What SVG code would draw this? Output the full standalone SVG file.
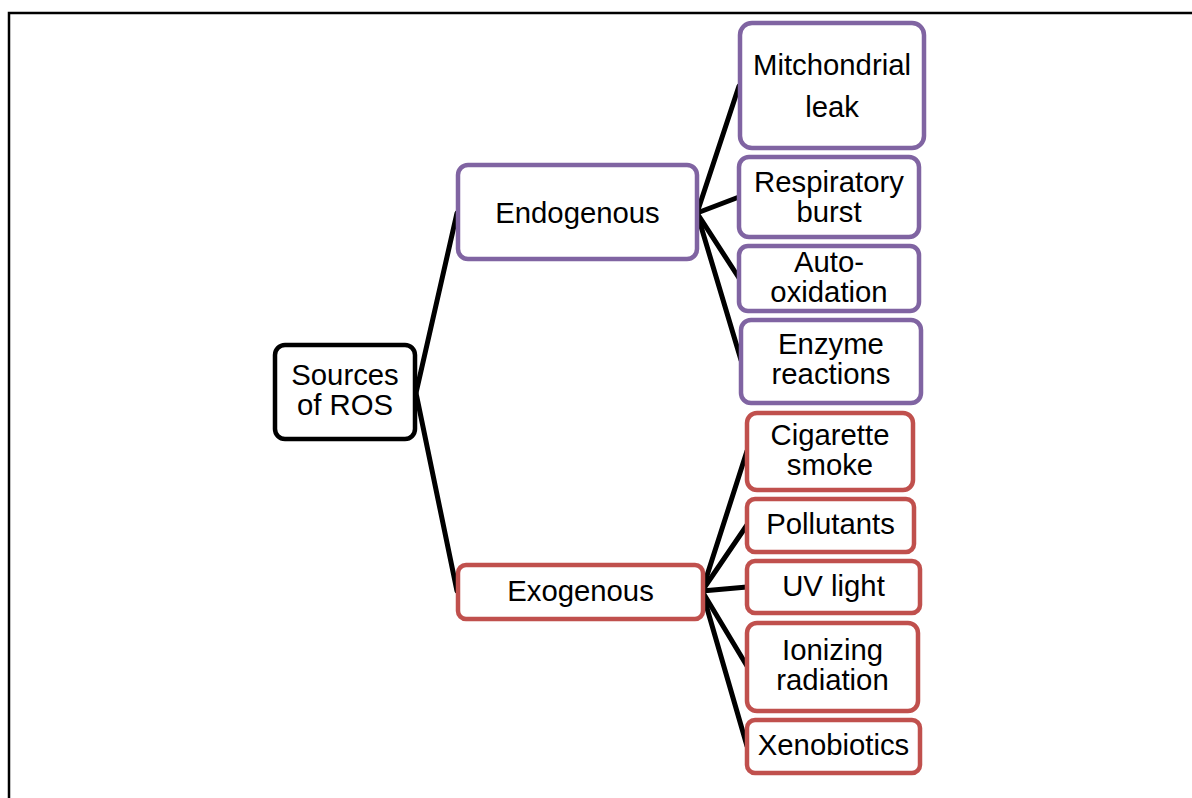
<svg xmlns="http://www.w3.org/2000/svg" width="1192" height="798" viewBox="0 0 1192 798">
<style>
.box{fill:#fff;stroke-width:4.5}
.root{stroke:#000}
.endo{stroke:#8064A2}
.exo{stroke:#C0504D}
text{font-family:"Liberation Sans",Arial,sans-serif;font-size:29.3px;fill:#000;text-anchor:middle}
.conn line{stroke:#000;stroke-width:5;stroke-linecap:round}
</style>
<rect x="9" y="13" width="1200" height="800" fill="#fff" stroke="#000" stroke-width="2.5"/>
<g class="conn" id="connectors">
<line x1="416" y1="393" x2="457" y2="213"/>
<line x1="416" y1="393" x2="457" y2="591"/>
<line x1="697" y1="213" x2="739" y2="86"/>
<line x1="697" y1="213" x2="739" y2="197"/>
<line x1="697" y1="213" x2="739" y2="278"/>
<line x1="697" y1="213" x2="741" y2="360"/>
<line x1="702" y1="591" x2="747" y2="451"/>
<line x1="702" y1="591" x2="747" y2="525"/>
<line x1="702" y1="591" x2="747" y2="587"/>
<line x1="702" y1="591" x2="747" y2="666"/>
<line x1="702" y1="591" x2="747" y2="746"/>
</g>
<g id="sources"><rect class="box root" x="275" y="345" width="140" height="94" rx="10"/><text x="345" y="385">Sources</text><text x="345" y="415">of ROS</text></g>
<g id="endogenous"><rect class="box endo" x="458" y="165" width="239" height="94" rx="10"/><text x="577.5" y="223">Endogenous</text></g>
<g id="exogenous"><rect class="box exo" x="458" y="565" width="245" height="54" rx="8"/><text x="580.5" y="601">Exogenous</text></g>
<g id="mitchondrial"><rect class="box endo" x="740" y="23" width="184" height="125" rx="12"/><text x="832" y="75">Mitchondrial</text><text x="832" y="117">leak</text></g>
<g id="respiratory"><rect class="box endo" x="739" y="157" width="180" height="80" rx="10"/><text x="829" y="192">Respiratory</text><text x="829" y="222">burst</text></g>
<g id="auto"><rect class="box endo" x="739" y="246" width="180" height="65" rx="9"/><text x="829" y="272">Auto-</text><text x="829" y="302">oxidation</text></g>
<g id="enzyme"><rect class="box endo" x="741" y="320" width="180" height="83" rx="10"/><text x="831" y="354">Enzyme</text><text x="831" y="384">reactions</text></g>
<g id="cigarette"><rect class="box exo" x="747" y="413" width="166" height="77" rx="10"/><text x="830" y="445">Cigarette</text><text x="830" y="475">smoke</text></g>
<g id="pollutants"><rect class="box exo" x="747" y="499" width="167" height="53" rx="8"/><text x="830.5" y="534">Pollutants</text></g>
<g id="uv"><rect class="box exo" x="747" y="561" width="173" height="52" rx="8"/><text x="833.5" y="596">UV light</text></g>
<g id="ionizing"><rect class="box exo" x="747" y="623" width="171" height="88" rx="10"/><text x="832.5" y="660">Ionizing</text><text x="832.5" y="690">radiation</text></g>
<g id="xenobiotics"><rect class="box exo" x="747" y="720" width="173" height="53" rx="8"/><text x="833.5" y="755">Xenobiotics</text></g>
</svg>
